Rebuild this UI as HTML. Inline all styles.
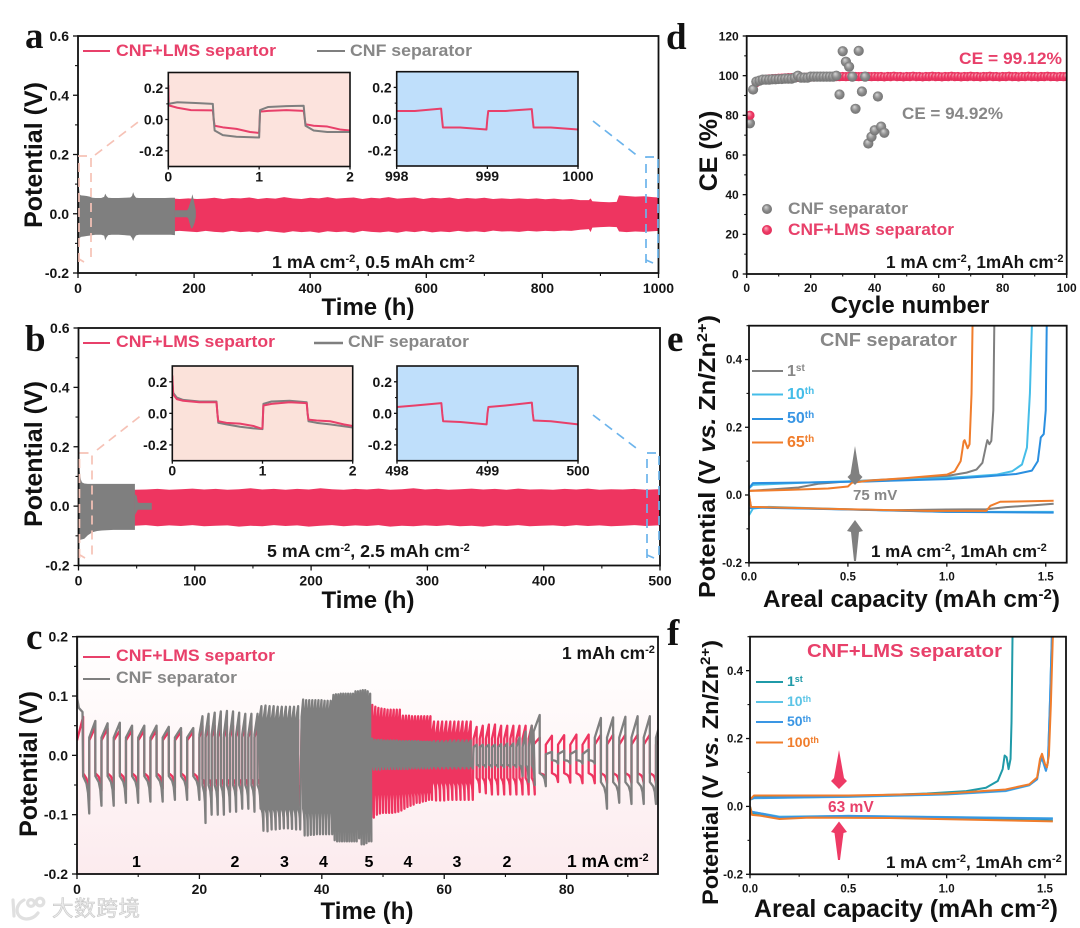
<!DOCTYPE html>
<html lang="en">
<head>
<meta charset="utf-8">
<title>Zn symmetric cell cycling with CNF and CNF+LMS separators</title>
<style>
html,body{margin:0;padding:0;background:#fff}
svg{display:block}
text{font-family:"Liberation Sans","Noto Sans CJK SC",sans-serif;font-weight:bold}
.panel-letter{font-family:"Liberation Serif",serif;font-size:37px;fill:#111}
.axis-title{font-size:25px;fill:#111}
.pink{fill:#e8406a}
.grey{fill:#878787}
.leg{font-size:16.3px}
.note{font-size:17px;fill:#151515}
.note-wide{font-size:17.8px}
</style>
</head>
<body>
<svg id="fig" xmlns="http://www.w3.org/2000/svg" width="1080" height="928" viewBox="0 0 1080 928">
<defs>
<linearGradient id="cBg" x1="0" y1="0" x2="0" y2="1">
<stop offset="0" stop-color="#ffffff"/><stop offset="0.25" stop-color="#fffbfb"/><stop offset="1" stop-color="#fcebee"/>
</linearGradient>
<radialGradient id="sphGrey" cx="0.5" cy="0.5" r="0.55" fx="0.38" fy="0.3">
<stop offset="0" stop-color="#d6d6d6"/><stop offset="0.55" stop-color="#8c8c8c"/><stop offset="1" stop-color="#6e6e6e"/>
</radialGradient>
<radialGradient id="sphPink" cx="0.5" cy="0.5" r="0.55" fx="0.38" fy="0.3">
<stop offset="0" stop-color="#f9b6c5"/><stop offset="0.55" stop-color="#ee3a65"/><stop offset="1" stop-color="#e02c58"/>
</radialGradient>
</defs>

<g id="layerBack"></g>

<g>
<text class="panel-letter" x="25" y="48">a</text>
<text class="panel-letter" x="25" y="351">b</text>
<text class="panel-letter" x="26" y="649">c</text>
<text class="panel-letter" x="666" y="49">d</text>
<text class="panel-letter" x="667" y="351">e</text>
<text class="panel-letter" x="667" y="645">f</text>
</g>

<g>
<text class="axis-title" transform="translate(42,155) rotate(-90)" text-anchor="middle">Potential (V)</text>
<text class="axis-title" transform="translate(42,454) rotate(-90)" text-anchor="middle">Potential (V)</text>
<text class="axis-title" transform="translate(37,764) rotate(-90)" text-anchor="middle">Potential (V)</text>
<text class="axis-title" style="font-size:24px" x="368" y="315" text-anchor="middle">Time (h)</text>
<text class="axis-title" style="font-size:24px" x="368" y="608" text-anchor="middle">Time (h)</text>
<text class="axis-title" style="font-size:24px" x="367" y="919" text-anchor="middle">Time (h)</text>
<text class="axis-title" transform="translate(717,151) rotate(-90)" text-anchor="middle">CE (%)</text>
<text class="axis-title" style="font-size:24px" x="910" y="313" text-anchor="middle">Cycle number</text>
<text class="axis-title" transform="translate(715,598) rotate(-90)" textLength="283" lengthAdjust="spacingAndGlyphs" style="font-size:23px">Potential (V <tspan font-style="italic">vs.</tspan> Zn/Zn<tspan dy="-8" font-size="15">2+</tspan><tspan dy="8">)</tspan></text>
<text class="axis-title" transform="translate(718,905) rotate(-90)" textLength="265" lengthAdjust="spacingAndGlyphs" style="font-size:22px">Potential (V <tspan font-style="italic">vs.</tspan> Zn/Zn<tspan dy="-8" font-size="14">2+</tspan><tspan dy="8">)</tspan></text>
<text class="axis-title" x="763" y="607" style="font-size:24.3px">Areal capacity (mAh cm<tspan dy="-8" font-size="15">-2</tspan><tspan dy="8">)</tspan></text>
<text class="axis-title" x="754" y="917" style="font-size:24.9px">Areal capacity (mAh cm<tspan dy="-8" font-size="15">-2</tspan><tspan dy="8">)</tspan></text>
</g>

<g id="layerFront"></g>

<g>
<g>
<line x1="83" y1="51" x2="110" y2="51" stroke="#e8406a" stroke-width="2"/>
<text class="leg pink" x="116" y="56" textLength="160" lengthAdjust="spacingAndGlyphs">CNF+LMS separtor</text>
<line x1="317" y1="51" x2="345" y2="51" stroke="#7f7f7f" stroke-width="2"/>
<text class="leg grey" x="350" y="56" textLength="122" lengthAdjust="spacingAndGlyphs">CNF separator</text>
</g>
<text class="note note-wide" x="272" y="268">1 mA cm<tspan dy="-6" font-size="11">-2</tspan><tspan dy="6">, 0.5 mAh cm</tspan><tspan dy="-6" font-size="11">-2</tspan></text>

<g>
<line x1="83" y1="343" x2="110" y2="343" stroke="#e8406a" stroke-width="2"/>
<text class="leg pink" x="116" y="347" textLength="159" lengthAdjust="spacingAndGlyphs">CNF+LMS separtor</text>
<line x1="314" y1="343" x2="343" y2="343" stroke="#7f7f7f" stroke-width="2.4"/>
<text class="leg grey" x="348" y="347" textLength="121" lengthAdjust="spacingAndGlyphs">CNF separator</text>
</g>
<text class="note note-wide" x="267" y="557">5 mA cm<tspan dy="-6" font-size="11">-2</tspan><tspan dy="6">, 2.5 mAh cm</tspan><tspan dy="-6" font-size="11">-2</tspan></text>

<g>
<line x1="83" y1="657" x2="110" y2="657" stroke="#e8406a" stroke-width="2"/>
<text class="leg pink" x="116" y="661" textLength="159" lengthAdjust="spacingAndGlyphs">CNF+LMS separtor</text>
<line x1="83" y1="679" x2="110" y2="679" stroke="#7f7f7f" stroke-width="2"/>
<text class="leg grey" x="116" y="683" textLength="121" lengthAdjust="spacingAndGlyphs">CNF separator</text>
</g>
<text class="note" x="562" y="659" style="font-size:17.4px">1 mAh cm<tspan dy="-6" font-size="11">-2</tspan></text>
<g>
<text x="136.5" y="867" text-anchor="middle" font-size="16">1</text>
<text x="235" y="867" text-anchor="middle" font-size="16">2</text>
<text x="284.5" y="867" text-anchor="middle" font-size="16">3</text>
<text x="323.5" y="867" text-anchor="middle" font-size="16">4</text>
<text x="369" y="867" text-anchor="middle" font-size="16">5</text>
<text x="408" y="867" text-anchor="middle" font-size="16">4</text>
<text x="457" y="867" text-anchor="middle" font-size="16">3</text>
<text x="507" y="867" text-anchor="middle" font-size="16">2</text>
<text x="567" y="867" font-size="17.4">1 mA cm<tspan dy="-6" font-size="11">-2</tspan></text>
</g>

<text class="pink" x="959" y="64" font-size="17" textLength="103" lengthAdjust="spacingAndGlyphs">CE = 99.12%</text>
<text class="grey" x="902" y="119" font-size="17" textLength="101" lengthAdjust="spacingAndGlyphs">CE = 94.92%</text>
<g>
<circle cx="767" cy="209" r="5" fill="url(#sphGrey)"/>
<text class="leg grey" x="788" y="214" textLength="120" lengthAdjust="spacingAndGlyphs">CNF separator</text>
<circle cx="767" cy="230" r="5" fill="url(#sphPink)"/>
<text class="leg pink" x="788" y="235" textLength="166" lengthAdjust="spacingAndGlyphs">CNF+LMS separator</text>
</g>
<text class="note" x="886" y="268" style="font-size:17.2px">1 mA cm<tspan dy="-6" font-size="11">-2</tspan><tspan dy="6">, 1mAh cm</tspan><tspan dy="-6" font-size="11">-2</tspan></text>

<text class="grey" x="820" y="346" font-size="18.4" textLength="137" lengthAdjust="spacingAndGlyphs">CNF separator</text>
<g>
<line x1="752" y1="371" x2="783" y2="371" stroke="#808080" stroke-width="2"/>
<text class="grey" x="787" y="376" font-size="16">1<tspan dy="-5" font-size="10">st</tspan></text>
<line x1="752" y1="394.5" x2="783" y2="394.5" stroke="#45bde8" stroke-width="2"/>
<text x="787" y="399" font-size="16" fill="#45bde8">10<tspan dy="-5" font-size="10">th</tspan></text>
<line x1="752" y1="419" x2="783" y2="419" stroke="#2a8fe0" stroke-width="2"/>
<text x="787" y="423" font-size="16" fill="#3a96e4">50<tspan dy="-5" font-size="10">th</tspan></text>
<line x1="752" y1="442.5" x2="783" y2="442.5" stroke="#f07d2c" stroke-width="2"/>
<text x="787" y="447" font-size="16" fill="#f07d2c">65<tspan dy="-5" font-size="10">th</tspan></text>
</g>
<polygon points="855,446 859.5,474 862.5,477 855,485 847.5,477 850.5,474" fill="#808080"/>
<polygon points="855,520 863,531 859,532 856,561 854,561 851,532 847,531" fill="#808080"/>
<text class="grey" x="853" y="500" font-size="15">75 mV</text>
<text class="note" x="871" y="557">1 mA cm<tspan dy="-6" font-size="11">-2</tspan><tspan dy="6">, 1mAh cm</tspan><tspan dy="-6" font-size="11">-2</tspan></text>

<text class="pink" x="807" y="657" font-size="18.6" textLength="195" lengthAdjust="spacingAndGlyphs">CNF+LMS separator</text>
<g>
<line x1="756" y1="682" x2="783" y2="682" stroke="#1f9aa8" stroke-width="2"/>
<text x="787" y="686" font-size="14" fill="#1f9aa8">1<tspan dy="-4" font-size="9">st</tspan></text>
<line x1="756" y1="702" x2="783" y2="702" stroke="#5cc4e6" stroke-width="2"/>
<text x="787" y="706" font-size="14" fill="#5cc4e6">10<tspan dy="-4" font-size="9">th</tspan></text>
<line x1="756" y1="722" x2="783" y2="722" stroke="#3a96e4" stroke-width="2"/>
<text x="787" y="726" font-size="14" fill="#3a96e4">50<tspan dy="-4" font-size="9">th</tspan></text>
<line x1="756" y1="742.5" x2="783" y2="742.5" stroke="#f07d2c" stroke-width="2"/>
<text x="787" y="747" font-size="14" fill="#f07d2c">100<tspan dy="-4" font-size="9">th</tspan></text>
</g>
<polygon points="839,750 844,778 847,781 839,789 831,781 834,778" fill="#ee3a65"/>
<polygon points="839,821.5 847,832 843.5,833 840,860 838,860 834.5,833 831,832" fill="#ee3a65"/>
<text class="pink" x="828" y="812" font-size="15.5">63 mV</text>
<text class="note" x="886" y="868">1 mA cm<tspan dy="-6" font-size="11">-2</tspan><tspan dy="6">, 1mAh cm</tspan><tspan dy="-6" font-size="11">-2</tspan></text>
</g>

<g>
<g fill="none" stroke="#e0e0e0" stroke-width="3.2" stroke-linecap="round">
<path d="M13 900 L14 916 M24 900 C14 905 15 918 26 919 C31 919 35 917 38 913"/>
<circle cx="31" cy="903" r="3.4"/><circle cx="40" cy="902" r="3.8"/>
</g>
<text x="52" y="916" font-size="21.5" fill="#eaeaea" stroke="#c8c8c8" stroke-width="0.6" textLength="88" style="font-family:'Noto Sans CJK SC',sans-serif;font-weight:400">大数跨境</text>
</g>

<script>
// ---------- panel a: envelope of the cycling trace ----------
const aGrayTime=[0.3,1,3,5,10,15,20,25,30,40,45,47,49,52,58,70,80,90,93,95,97,100,105,120,135,150,160,166,167];
const aGrayUpper=[.16,.10,.065,.062,.061,.060,.058,.054,.053,.053,.057,.068,.060,.054,.053,.053,.054,.055,.060,.073,.062,.054,.053,.053,.053,.053,.054,.054,.054];
const aGrayLower=[-.15,-.12,-.082,-.078,-.077,-.075,-.074,-.072,-.071,-.071,-.074,-.090,-.080,-.072,-.071,-.071,-.072,-.074,-.082,-.092,-.082,-.073,-.071,-.071,-.071,-.071,-.071,-.072,-.072];
const aGrayTailTime=[167,188,190,192,195,197,199,201,203];
const aGrayTailUpper=[.012,.012,.018,.030,.048,.066,.050,.030,.010];
const aGrayTailLower=[-.012,-.012,-.016,-.030,-.050,-.048,-.040,-.030,-.010];
const aPinkTime=[160,175,190,205,220,235,250,265,280,295,
310,325,340,355,370,385,400,415,430,445,
460,475,490,505,520,535,550,565,580,595,
610,625,640,655,670,685,700,715,730,745,
760,775,790,805,820,835,850,865,880,883,
886,900,915,928,932,945,960,975,990,1000];
const aPinkUpper=[.052,.050,.052,.050,.051,.054,.050,.053,.052,.055,
.050,.053,.051,.056,.052,.050,.054,.052,.056,.051,
.053,.055,.050,.054,.052,.056,.051,.053,.055,.050,
.054,.052,.055,.050,.053,.051,.054,.050,.052,.050,
.052,.050,.052,.049,.051,.048,.050,.046,.046,.052,
.042,.040,.039,.040,.062,.060,.058,.059,.056,.055];
const aPinkLower=[-.060,-.058,-.060,-.062,-.058,-.061,-.063,-.058,-.062,-.060,
-.063,-.058,-.061,-.064,-.059,-.062,-.060,-.064,-.059,-.062,
-.060,-.064,-.058,-.061,-.063,-.060,-.064,-.059,-.062,-.058,
-.063,-.060,-.062,-.058,-.061,-.059,-.062,-.057,-.060,-.059,
-.061,-.058,-.060,-.058,-.059,-.057,-.058,-.054,-.052,-.062,
-.047,-.045,-.044,-.045,-.060,-.062,-.060,-.061,-.059,-.058];
const aInsetLeftPinkX=[0,.005,.1,.25,.49,.5,.51,.6,.75,.9,.99,1,1.01,1.1,1.3,1.49,1.51,1.6,1.75,1.9,2];
const aInsetLeftPinkY=[.22,.09,.075,.06,.058,0,-.04,-.05,-.06,-.08,-.085,-.08,.05,.055,.06,.055,-.03,-.04,-.045,-.065,-.07];
const aInsetLeftGrayX=[0,.1,.3,.49,.5,.51,.6,.75,1,1.01,1.1,1.3,1.49,1.51,1.6,1.75,2];
const aInsetLeftGrayY=[.1,.11,.105,.1,0,-.07,-.1,-.11,-.115,.06,.08,.085,.088,-.04,-.07,-.08,-.08];
const aInsetRightX=[998,998.2,998.49,998.5,998.51,998.7,998.99,999,999.01,999.2,999.49,999.5,999.51,999.7,1000];
const aInsetRightY=[.05,.05,.065,0,-.055,-.055,-.068,0,.05,.05,.062,0,-.055,-.055,-.068];

// ---------- panel b ----------
const bGrayTime=[0.2,0.6,1,2,3,5,8,12,16,20,30,40,47,48.5];
const bGrayUpper=[.26,.17,.12,.09,.08,.076,.075,.075,.075,.075,.075,.075,.075,.075];
const bGrayLower=[-.12,-.12,-.115,-.113,-.112,-.11,-.098,-.088,-.084,-.082,-.08,-.08,-.08,-.08];
const bGrayTailTime=[48.5,50,51,52.5,53,63];
const bGrayTailUpper=[.04,.035,.012,.011,.011,.011];
const bGrayTailLower=[-.03,-.02,-.012,-.012,-.012,-.012];
const bPinkTime=[48,58,68,78,88,98,108,118,128,138,
148,158,168,178,188,198,208,218,228,238,
248,258,268,278,288,298,308,318,328,338,
348,358,368,378,388,398,408,418,428,438,
448,458,468,478,488,498,500];
const bPinkUpper=[.055,.056,.058,.055,.057,.059,.056,.058,.055,.057,
.060,.056,.058,.055,.058,.056,.060,.057,.055,.058,
.056,.059,.055,.057,.060,.056,.058,.055,.057,.059,
.056,.058,.055,.059,.056,.057,.055,.058,.056,.059,
.055,.057,.056,.058,.055,.057,.056];
const bPinkLower=[-.066,-.064,-.068,-.065,-.067,-.064,-.068,-.066,-.065,-.069,
-.066,-.068,-.064,-.067,-.065,-.069,-.066,-.064,-.068,-.065,
-.067,-.064,-.069,-.066,-.068,-.065,-.067,-.064,-.068,-.066,
-.069,-.065,-.067,-.064,-.068,-.066,-.065,-.068,-.064,-.067,
-.065,-.068,-.066,-.064,-.067,-.065,-.066];
const bInsetLeftPinkX=[0,.01,.05,.12,.3,.49,.5,.51,.6,.75,.9,.99,1,1.01,1.1,1.3,1.49,1.5,1.51,1.6,1.75,1.9,2];
const bInsetLeftPinkY=[.24,.12,.09,.08,.07,.07,0,-.05,-.06,-.065,-.08,-.097,-.09,.05,.06,.07,.065,0,-.04,-.045,-.05,-.07,-.08];
const bInsetLeftGrayX=[0,.01,.05,.12,.3,.49,.5,.51,.6,.75,.9,1,1.01,1.1,1.3,1.49,1.5,1.51,1.6,1.75,2];
const bInsetLeftGrayY=[.2,.13,.1,.085,.075,.075,0,-.06,-.07,-.085,-.095,-.1,.06,.075,.08,.07,0,-.05,-.06,-.07,-.09];
const bInsetRightX=[498,498.2,498.49,498.5,498.51,498.7,498.99,499,499.01,499.2,499.49,499.5,499.51,499.7,500];
const bInsetRightY=[.04,.05,.065,0,-.05,-.055,-.07,0,.04,.05,.068,0,-.045,-.05,-.07];

// ---------- panel c: rate-capability cycling ----------
const cBlockRates=[1,2,3,4,5,4,3,2,1,1,1];
const cBlockStarts=[0,20,29.8,36.7,41.7,48,58,64.8,74.6,76.6,84.6];
const cSpikeTime=[0,.05,.3,.9];
const cSpikeV=[.2,.095,.08,.073];
const cGrayHigh=[
[.073,.058,.054,.055,.050,.050,.050,.048,.046,.046],
[.066,.070,.072,.074,.075,.074,.072,.070,.070,.070],
[.083,.084,.083,.083,.082,.082,.082,.082,.082,.083],
[.094,.093,.093,.093,.093,.093,.093,.092,.092,.092],
[.102,.103,.103,.104,.104,.104,.104,.104,.104,.108,.108,.109,.110,.110,.108,.104],
[.028,.026,.026,.026,.025,.025,.025,.025,.025,.024,.024,.024,.024,.024,.024,.024,.023,.023,.023,.023],
[.024,.024,.024,.024,.025,.025,.025,.025,.025,.025],
[.018,.018,.018,.018,.019,.02,.02,.03,.04,.05],
[.068],
[.006,.008,.008,.010],
[.063,.064,.065,.066,.066,.066]];
const cGrayLow=[
[-.098,-.085,-.085,-.080,-.080,-.078,-.078,-.075,-.075,-.075],
[-.114,-.100,-.100,-.100,-.095,-.095,-.090,-.090,-.095,-.090],
[-.127,-.128,-.125,-.125,-.124,-.123,-.123,-.124,-.125,-.125],
[-.135,-.135,-.134,-.134,-.133,-.133,-.133,-.133,-.133,-.133],
[-.143,-.145,-.145,-.145,-.145,-.145,-.145,-.145,-.145,-.145,-.140,-.150,-.150,-.148,-.145,-.145],
[-.024,-.024,-.024,-.023,-.023,-.023,-.023,-.023,-.023,-.023,-.023,-.023,-.022,-.022,-.022,-.022,-.022,-.022,-.022,-.022],
[-.022,-.022,-.022,-.022,-.022,-.022,-.022,-.022,-.022,-.022],
[-.020,-.020,-.020,-.020,-.020,-.020,-.020,-.035,-.045,-.050],
[-.052],
[-.014,-.014,-.014,-.014],
[-.090,-.080,-.082,-.082,-.082,-.082]];
const cGrayHighStart=[.03,.035,.06,.065,.07,.022,.02,.014,.04,.002,.03];
const cGrayLowStart=[-.035,-.05,-.09,-.09,-.095,-.018,-.018,-.016,-.03,-.008,-.045];
const cPinkHigh=[
[.065,.048,.045,.042,.042,.042,.042,.040,.040,.040],
[.050,.050,.050,.050,.050,.050,.050,.050,.050,.050],
[.060,.060,.060,.060,.060,.060,.060,.060,.060,.060],
[.065,.065,.065,.065,.065,.065,.065,.065,.065,.065],
[.070,.070,.070,.070,.070,.070,.070,.070,.070,.070,.070,.070,.070,.070,.070,.070],
[.085,.082,.080,.079,.078,.077,.077,.077,.077,.077,.067,.067,.067,.066,.066,.066,.066,.066,.066,.066],
[.057,.057,.057,.057,.057,.057,.057,.057,.057,.057],
[.048,.050,.052,.052,.050,.050,.050,.050,.050,.050],
[.030],
[.033,.034,.035,.035],
[.035,.035,.035,.035,.035,.035]];
const cPinkLow=[
[-.075,-.060,-.058,-.058,-.056,-.056,-.056,-.055,-.055,-.055],
[-.060,-.060,-.060,-.060,-.060,-.060,-.060,-.060,-.060,-.060],
[-.085,-.085,-.085,-.085,-.085,-.085,-.085,-.085,-.085,-.085],
[-.090,-.090,-.090,-.090,-.090,-.090,-.090,-.090,-.090,-.090],
[-.100,-.100,-.100,-.100,-.100,-.100,-.100,-.100,-.100,-.100,-.100,-.100,-.100,-.100,-.100,-.105],
[-.105,-.100,-.098,-.097,-.097,-.097,-.097,-.096,-.095,-.093,-.090,-.087,-.085,-.083,-.080,-.080,-.078,-.077,-.075,-.075],
[-.076,-.076,-.076,-.075,-.075,-.075,-.075,-.075,-.075,-.075],
[-.062,-.064,-.066,-.066,-.066,-.066,-.066,-.066,-.066,-.066],
[-.040],
[-.045,-.046,-.047,-.047],
[-.047,-.047,-.047,-.047,-.047,-.047]];
const cPinkHighStart=[.025,.03,.04,.045,.045,.05,.035,.028,.018,.018,.018];
const cPinkLowStart=[-.03,-.04,-.05,-.05,-.05,-.06,-.045,-.038,-.03,-.03,-.03];

// ---------- panel d: coulombic efficiency ----------
const dGrayCE=[76,93,97,97.5,98,98,98,98.2,98.2,98.3,98.3,98.5,98.5,98.5,99,100,99,99,99,99.5,99.5,99.5,99.5,99.5,99.5,99.5,99.5,100,90.5,112.3,107,104.5,99.5,83.3,112.5,92,99.5,65.8,69.2,72.5,89.5,74.3,71.2];
const dPinkCE=[80,93,96.5,97.5,98,98.2,98.4,98.5,98.6,98.7,
98.8,98.9,99,99,99.1,99.1,99.2,99.2,99.3,99.3,
99.3,99.4,99.4,99.4,99.5,99.5,99.5,99.5,99.5,99.6,
99.5,99.6,99.5,99.6,99.5,99.6,99.5,99.6,99.5,99.6,
99.5,99.6,99.4,99.6,99.5,99.7,99.5,99.6,99.4,99.6,
99.5,99.7,99.5,99.6,99.4,99.6,99.5,99.7,99.5,99.6,
99.4,99.6,99.5,99.7,99.5,99.6,99.4,99.6,99.5,99.7,
99.5,99.6,99.4,99.6,99.5,99.7,99.5,99.6,99.4,99.6,
99.5,99.7,99.5,99.6,99.4,99.6,99.5,99.7,99.5,99.6,
99.4,99.6,99.5,99.7,99.5,99.6,99.4,99.6,99.5,99.6];

// ---------- panel e: voltage profiles, CNF separator ----------
const e1stCapUp=[0,.1,.25,.35,.5,.7,.9,1,1.1,1.15,1.18,1.2,1.205,1.215,1.225,1.235,1.24];
const e1stVUp=[.012,.016,.022,.033,.04,.046,.052,.056,.066,.075,.095,.15,.162,.15,.16,.25,.5];
const e1stCapDn=[0,.01,.3,.7,1,1.2,1.3,1.45,1.54];
const e1stVDn=[0,-.035,-.04,-.045,-.043,-.042,-.036,-.03,-.026];
const e10thCapUp=[0,.02,.3,.6,.9,1.1,1.25,1.33,1.38,1.405,1.42,1.43];
const e10thVUp=[.02,.03,.037,.042,.048,.054,.06,.07,.09,.14,.3,.5];
const e10thCapDn=[0,.02,.1,.5,1,1.54];
const e10thVDn=[-.06,-.04,-.035,-.042,-.05,-.05];
const e50thCapUp=[0,.02,.3,.6,1,1.2,1.35,1.43,1.46,1.475,1.49,1.5,1.505];
const e50thVUp=[.02,.035,.037,.04,.047,.055,.062,.072,.1,.17,.18,.25,.5];
const e50thCapDn=[0,.02,.5,1,1.54];
const e50thVDn=[-.04,-.037,-.043,-.05,-.052];
const e65thCapUp=[0,.2,.4,.5,.52,.6,.8,1,1.04,1.07,1.085,1.09,1.105,1.115,1.125,1.13];
const e65thVUp=[.012,.015,.019,.025,.036,.042,.05,.06,.07,.1,.158,.162,.138,.15,.3,.5];
const e65thCapDn=[0,.01,.5,.9,1.2,1.22,1.27,1.54];
const e65thVDn=[0,-.035,-.042,-.047,-.047,-.032,-.02,-.017];

// ---------- panel f: voltage profiles, CNF+LMS separator ----------
const f1stCapUp=[0,.02,.5,.9,1.1,1.2,1.26,1.285,1.295,1.305,1.315,1.325,1.33,1.335];
const f1stVUp=[.02,.027,.03,.038,.045,.055,.075,.11,.15,.145,.11,.14,.25,.5];
const f1stCapDn=[0,.01,.05,.15,.3,.7,1.2,1.54];
const f1stVDn=[0,-.02,-.022,-.035,-.032,-.033,-.038,-.042];
const f10thCapUp=[0,.02,.5,1,1.3,1.42,1.46,1.475,1.485,1.505,1.515,1.525,1.535];
const f10thVUp=[.02,.024,.028,.035,.045,.062,.08,.13,.14,.105,.13,.3,.5];
const f10thCapDn=[0,.05,.15,.5,1,1.54];
const f10thVDn=[-.015,-.02,-.03,-.028,-.031,-.035];
const f50thCapUp=[0,.02,.5,1,1.3,1.42,1.46,1.475,1.485,1.505,1.515,1.525,1.535];
const f50thVUp=[.02,.025,.029,.036,.046,.063,.08,.13,.145,.105,.13,.3,.5];
const f50thCapDn=[0,.05,.15,.5,1,1.54];
const f50thVDn=[-.015,-.02,-.032,-.028,-.032,-.036];
const f100thCapUp=[0,.02,.5,1,1.3,1.42,1.46,1.475,1.485,1.5,1.51,1.52,1.53,1.54];
const f100thVUp=[.02,.032,.032,.038,.05,.065,.085,.14,.155,.125,.115,.15,.3,.5];
const f100thCapDn=[0,.01,.05,.15,.3,.7,1.2,1.54];
const f100thVDn=[0,-.025,-.027,-.037,-.033,-.034,-.04,-.044];

// ---------- tick label arrays ----------
const potentialTicksAB=[-.2,0,.2,.4,.6];
const potentialMinorAB=[-.1,.1,.3,.5];
const potentialTicksC=[-.2,-.1,0,.1,.2];
const potentialMinorC=[-.15,-.05,.05,.15];
const aTimeTicks=[0,200,400,600,800,1000];
const aTimeMinor=[100,300,500,700,900];
const bTimeTicks=[0,100,200,300,400,500];
const bTimeMinor=[50,150,250,350,450];
const cTimeTicks=[0,20,40,60,80];
const cTimeMinor=[10,30,50,70,90];
const dCycleTicks=[0,20,40,60,80,100];
const dCycleMinor=[10,30,50,70,90];
const dCETicks=[0,20,40,60,80,100,120];
const dCEMinor=[10,30,50,70,90,110];
const efCapTicks=[0,.5,1,1.5];
const efCapMinor=[.25,.75,1.25];
const efVTicks=[-.2,0,.2,.4];
const efVMinor=[-.1,.1,.3,.5];
const insetVTicks=[-.2,0,.2];
const insetVMinor=[-.1,.1];

// ---------- helpers ----------
const NS='http://www.w3.org/2000/svg';
const back=document.getElementById('layerBack');
const front=document.getElementById('layerFront');
const defs=document.querySelector('#fig defs');
function mk(tag,attrs,parent,name){
  const el=document.createElementNS(NS,tag);
  for(const k in attrs)el.setAttribute(k,attrs[k]);
  
  
  parent.appendChild(el);
  return el;
}
function lin(d0,d1,r0,r1){return v=>r0+(v-d0)*(r1-r0)/(d1-d0);}
function fmt1(v){return v.toFixed(1);}
function fmt0(v){return String(v);}
let clipCount=0;
function plot(o){
  const x=lin(o.xd[0],o.xd[1],o.box[0],o.box[1]);
  const y=lin(o.yd[0],o.yd[1],o.box[2],o.box[3]);
  const id='clip'+(clipCount++);
  const c=document.createElementNS(NS,'clipPath');
  c.setAttribute('id',id);
  const r=document.createElementNS(NS,'rect');
  r.setAttribute('x',o.box[0]);r.setAttribute('y',o.box[3]);
  r.setAttribute('width',o.box[1]-o.box[0]);r.setAttribute('height',o.box[2]-o.box[3]);
  c.appendChild(r);defs.appendChild(c);
  const w=o.box[1]-o.box[0],h=o.box[2]-o.box[3];
  const bg=mk('g',{},back,o.name+'-panel');
  mk('rect',{x:o.box[0],y:o.box[3],width:w,height:h,fill:o.fill||'none'},bg,o.name+'-plot-background');
  const data=mk('g',{'clip-path':'url(#'+id+')'},bg,o.name+'-series');
  const axes=mk('g',{},front,o.name+'-axes');
  mk('rect',{x:o.box[0],y:o.box[3],width:w,height:h,fill:'none',stroke:o.frame||'#111','stroke-width':o.sw||1.8},axes,o.name+'-frame');
  const tl=o.tl||5, tm=o.tm||3;
  (o.xt||[]).forEach(v=>{
    mk('line',{x1:x(v),x2:x(v),y1:o.box[2],y2:o.box[2]+tl,stroke:'#111','stroke-width':1.3},axes,o.name+'-x-tick');
    const t=mk('text',{x:x(v),y:o.box[2]+o.xlo,'text-anchor':'middle','font-size':o.fs,fill:'#151515'},axes,o.name+'-x-tick-label');
    t.textContent=(o.xf||fmt0)(v);
  });
  (o.xm||[]).forEach(v=>{
    mk('line',{x1:x(v),x2:x(v),y1:o.box[2],y2:o.box[2]+tm,stroke:'#111','stroke-width':1.1},axes,o.name+'-x-minor-tick');
  });
  (o.yt||[]).forEach(v=>{
    mk('line',{x1:o.box[0]-tl,x2:o.box[0],y1:y(v),y2:y(v),stroke:'#111','stroke-width':1.3},axes,o.name+'-y-tick');
    const t=mk('text',{x:o.box[0]-o.ylo,y:y(v)+o.fs*0.36,'text-anchor':'end','font-size':o.fs,fill:'#151515'},axes,o.name+'-y-tick-label');
    t.textContent=(o.yf||fmt1)(v);
  });
  (o.ym||[]).forEach(v=>{
    mk('line',{x1:o.box[0]-tm,x2:o.box[0],y1:y(v),y2:y(v),stroke:'#111','stroke-width':1.1},axes,o.name+'-y-minor-tick');
  });
  return {x,y,data};
}
function band(p,t,u,l,fill,name){
  let d='';
  t.forEach((v,i)=>{d+=(i?'L':'M')+p.x(v).toFixed(2)+' '+p.y(u[i]).toFixed(2);});
  for(let i=t.length-1;i>=0;i--){d+='L'+p.x(t[i]).toFixed(2)+' '+p.y(l[i]).toFixed(2);}
  mk('path',{d:d+'Z',fill:fill},p.data,name);
}
function curve(p,xs,ys,stroke,w,name){
  let d='';
  xs.forEach((v,i)=>{d+=(i?'L':'M')+p.x(v).toFixed(2)+' '+p.y(ys[i]).toFixed(2);});
  mk('path',{d:d,fill:'none',stroke:stroke,'stroke-width':w,'stroke-linejoin':'round'},p.data,name);
}
const PINK='#ee3560',GRAY='#7f7f7f',CY='#45bde8',BL='#2a8fe0',OR='#f07d2c',TE='#1f9aa8';

// panel a
const pa=plot({name:'a',box:[78,658.5,273,36],xd:[0,1000],yd:[-.2,.6],xt:aTimeTicks,xm:aTimeMinor,yt:potentialTicksAB,ym:potentialMinorAB,fs:14,xlo:20,ylo:9});
band(pa,aPinkTime,aPinkUpper,aPinkLower,PINK,'a-trace-cnf-lms');
band(pa,aGrayTime,aGrayUpper,aGrayLower,GRAY,'a-trace-cnf');
band(pa,aGrayTailTime,aGrayTailUpper,aGrayTailLower,GRAY,'a-trace-cnf-failure-tail');

// panel b
const pb=plot({name:'b',box:[78.5,660,565.5,328],xd:[0,500],yd:[-.2,.6],xt:bTimeTicks,xm:bTimeMinor,yt:potentialTicksAB,ym:potentialMinorAB,fs:14,xlo:20,ylo:9});
band(pb,bPinkTime,bPinkUpper,bPinkLower,PINK,'b-trace-cnf-lms');
band(pb,bGrayTime,bGrayUpper,bGrayLower,GRAY,'b-trace-cnf');
band(pb,bGrayTailTime,bGrayTailUpper,bGrayTailLower,GRAY,'b-trace-cnf-failure-tail');

// zoom call-outs
function callout(box,conn,color,name){
  const g=mk('g',{fill:'none',stroke:color,'stroke-width':1.7,'stroke-dasharray':'9 6'},front,name);
  mk('path',{d:'M'+box[0]+' '+box[3]+' L'+box[0]+' '+box[2]+' L'+box[1]+' '+box[2]+' L'+box[1]+' '+box[3]},g,name+'-box');
  conn.forEach(c=>mk('line',{x1:c[0],y1:c[1],x2:c[2],y2:c[3]},g,name+'-connector'));
}
callout([79,91,156,262],[[95,155,142,119],[79,259,84,262]],'#f6c2b6','a-zoom-callout-start');
callout([646,658,157,263],[[593,121,639,157],[646,260,653,263]],'#6cb4ec','a-zoom-callout-end');
callout([79.5,92,453,558],[[97,450,143,414],[80,555,85,558]],'#f6c2b6','b-zoom-callout-start');
callout([647,659,453,558],[[593,415,640,451],[647,555,654,558]],'#6cb4ec','b-zoom-callout-end');

// insets
const ia1=plot({name:'a-inset-left',box:[168.3,350,166.5,72.5],xd:[0,2],yd:[-.3,.3],xt:[0,1,2],yt:insetVTicks,ym:insetVMinor,fs:14,xlo:15,ylo:5,fill:'#fce3dd',tl:3,tm:2,sw:1.6});
curve(ia1,aInsetLeftPinkX,aInsetLeftPinkY,'#e8406a',2,'a-inset-left-curve-lms');
curve(ia1,aInsetLeftGrayX,aInsetLeftGrayY,GRAY,2,'a-inset-left-curve-cnf');
const ia2=plot({name:'a-inset-right',box:[396.7,578,166,71.7],xd:[998,1000],yd:[-.3,.3],xt:[998,999,1000],yt:insetVTicks,ym:insetVMinor,fs:14,xlo:15,ylo:5,fill:'#bfdffb',tl:3,tm:2,sw:1.6});
curve(ia2,aInsetRightX,aInsetRightY,'#e8406a',2,'a-inset-right-curve-lms');
const ib1=plot({name:'b-inset-left',box:[172.3,352.7,460.7,366],xd:[0,2],yd:[-.3,.3],xt:[0,1,2],yt:insetVTicks,ym:insetVMinor,fs:14,xlo:15,ylo:5,fill:'#fbe2da',tl:3,tm:2,sw:1.6});
curve(ib1,bInsetLeftGrayX,bInsetLeftGrayY,GRAY,2,'b-inset-left-curve-cnf');
curve(ib1,bInsetLeftPinkX,bInsetLeftPinkY,'#e8406a',2,'b-inset-left-curve-lms');
const ib2=plot({name:'b-inset-right',box:[397,578,460.7,366],xd:[498,500],yd:[-.3,.3],xt:[498,499,500],yt:insetVTicks,ym:insetVMinor,fs:14,xlo:15,ylo:5,fill:'#bfdffb',tl:3,tm:2,sw:1.6});
curve(ib2,bInsetRightX,bInsetRightY,'#e8406a',2,'b-inset-right-curve-lms');

// panel c
const pc=plot({name:'c',box:[77,658,874,636.7],xd:[0,94.93],yd:[-.2,.2],xt:cTimeTicks,xm:cTimeMinor,yt:potentialTicksC,ym:potentialMinorC,fs:14,xlo:20,ylo:9,fill:'url(#cBg)'});
function cycling(p,high,low,hs,ls,stroke,name,spikeT,spikeV){
  let d='';
  const add=(t,v)=>{d+=(d?'L':'M')+p.x(t).toFixed(2)+' '+p.y(v).toFixed(2);};
  if(spikeT)spikeT.forEach((t,i)=>add(t,spikeV[i]));
  cBlockRates.forEach((rate,b)=>{
    const half=1/rate;
    high[b].forEach((peak,i)=>{
      const t=cBlockStarts[b]+i*2*half;
      if(!(spikeT&&b===0&&i===0)){
        add(t,hs[b]);
        add(t+half,peak);
      }
      add(t+half,ls[b]);
      add(t+1.55*half,ls[b]+.2*(low[b][i]-ls[b]));
      add(t+1.8*half,ls[b]+.45*(low[b][i]-ls[b]));
      add(t+2*half,low[b][i]);
    });
  });
  mk('path',{d:d,fill:'none',stroke:stroke,'stroke-width':2.3,'stroke-linejoin':'round'},p.data,name);
}
cycling(pc,cPinkHigh,cPinkLow,cPinkHighStart,cPinkLowStart,PINK,'c-trace-cnf-lms');
cycling(pc,cGrayHigh,cGrayLow,cGrayHighStart,cGrayLowStart,GRAY,'c-trace-cnf',cSpikeTime,cSpikeV);

// panel d
const pd=plot({name:'d',box:[746.7,1066.7,274,36],xd:[0,100],yd:[0,120],xt:dCycleTicks,xm:dCycleMinor,yt:dCETicks,ym:dCEMinor,yf:fmt0,fs:12,xlo:18,ylo:8,tl:4,tm:2.5});
dPinkCE.forEach((v,i)=>{
  mk('circle',{cx:pd.x(i+1).toFixed(2),cy:pd.y(v).toFixed(2),r:4.6,fill:'url(#sphPink)'},pd.data,'d-point-cnf-lms');
});
dGrayCE.forEach((v,i)=>{
  mk('circle',{cx:pd.x(i+1).toFixed(2),cy:pd.y(v).toFixed(2),r:5.1,fill:'url(#sphGrey)'},pd.data,'d-point-cnf');
});
const pinkFirst=mk('circle',{cx:pd.x(1),cy:pd.y(dPinkCE[0]),r:4.6,fill:'url(#sphPink)'},pd.data,'d-point-cnf-lms-first');

// panel e
const pe=plot({name:'e',box:[749,1066.7,562.7,325.7],xd:[0,1.606],yd:[-.2,.5],xt:efCapTicks,xm:efCapMinor,xf:fmt1,yt:efVTicks,ym:efVMinor,fs:11.5,xlo:18,ylo:7,tl:4,tm:2.5});
[[e1stCapUp,e1stVUp,e1stCapDn,e1stVDn,GRAY,'1st'],[e10thCapUp,e10thVUp,e10thCapDn,e10thVDn,CY,'10th'],[e50thCapUp,e50thVUp,e50thCapDn,e50thVDn,BL,'50th'],[e65thCapUp,e65thVUp,e65thCapDn,e65thVDn,OR,'65th']].forEach(s=>{
  curve(pe,s[0],s[1],s[4],2,'e-curve-'+s[5]+'-charge');
  curve(pe,s[2],s[3],s[4],2,'e-curve-'+s[5]+'-discharge');
});

// panel f
const pf=plot({name:'f',box:[750,1066,874.3,636.7],xd:[0,1.607],yd:[-.2,.5],xt:efCapTicks,xm:efCapMinor,xf:fmt1,yt:efVTicks,ym:efVMinor,fs:11.5,xlo:18,ylo:7,tl:4,tm:2.5});
[[f1stCapUp,f1stVUp,f1stCapDn,f1stVDn,TE,'1st'],[f10thCapUp,f10thVUp,f10thCapDn,f10thVDn,'#5cc4e6','10th'],[f50thCapUp,f50thVUp,f50thCapDn,f50thVDn,'#3a96e4','50th'],[f100thCapUp,f100thVUp,f100thCapDn,f100thVDn,OR,'100th']].forEach(s=>{
  curve(pf,s[0],s[1],s[4],2,'f-curve-'+s[5]+'-charge');
  curve(pf,s[2],s[3],s[4],2,'f-curve-'+s[5]+'-discharge');
});
</script>
</svg>
</body>
</html>
